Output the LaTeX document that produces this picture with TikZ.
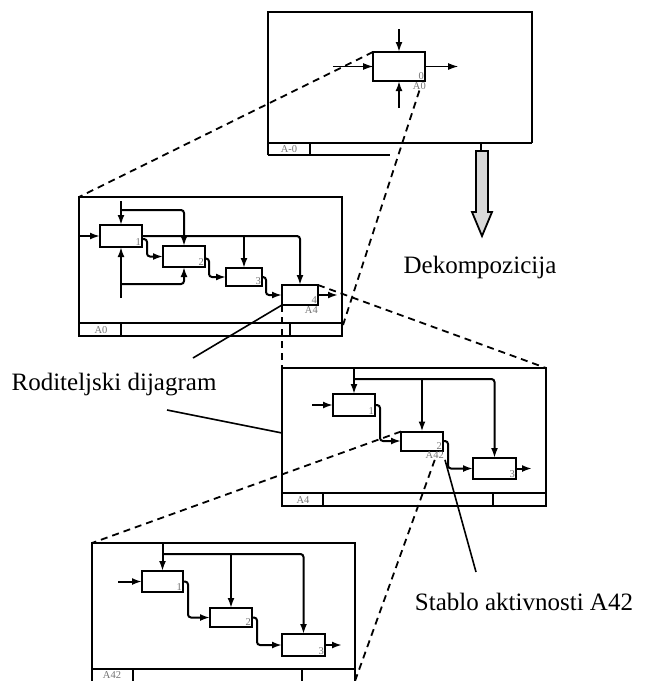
\documentclass[tikz,border=0pt]{standalone}
\usepackage{fontspec}
\setmainfont{Liberation Serif}
\usetikzlibrary{arrows.meta}

\tikzset{
  frame/.style={line width=2pt},
  act/.style={draw, line width=2pt, inner sep=0pt, outer sep=0pt},
  num/.style={font=\fontsize{10.5}{10.5}\selectfont, text=black!55, inner sep=1pt},
  code/.style={font=\fontsize{10.5}{10.5}\selectfont, text=black!55, inner sep=1pt},
  flow/.style={line width=2pt, rounded corners=3pt, -{Latex[length=10pt,width=7pt]}},
  zoomline/.style={line width=1.8pt, dash pattern=on 7pt off 5pt},
  note/.style={font=\fontsize{25}{28}\selectfont},
}

\begin{document}
\begin{tikzpicture}[x=1pt,y=-1pt]
  \useasboundingbox (0,0) rectangle (653,681);

  % diagram A-0
  \draw[frame] (268,155) -- (268,12) -- (532,12) -- (532,143); % okvir
  \draw[frame] (268,143) -- (532,143);
  \draw[frame] (268,155) -- (390,155);
  \draw[frame] (310,143) -- (310,155);
  \node[code] at (289,149) {A-0};
  \node[act, minimum width=52pt, minimum height=29pt] (t0) at (399,66.5) {};
  \node[num, anchor=south east] at (t0.south east) {0};
  \node[code, anchor=north east] (t0lab) at ([xshift=2pt]t0.south east) {A0};
  \coordinate (t0ctl) at (399,29);
  \coordinate (t0in) at (333,66.5);
  \coordinate (t0out) at (458,66.5);
  \coordinate (t0mech) at (399,108);
  \draw[flow] (t0ctl) -- (t0.north); % upravljanje
  \draw[flow, line width=1pt] (t0in) -- (t0.west); % ulaz
  \draw[flow, line width=1pt] (t0.east) -- (t0out); % izlaz
  \draw[flow] (t0mech) -- (t0.south); % mehanizam

  % strelica dekompozicije
  \draw[line width=1.2pt] (481,143) -- (481,151);
  \draw[line width=1.8pt, fill=black!15] (476,151) -- (488,151) -- (488,212) -- (492,212)
    -- (482,236) -- (472,212) -- (476,212) -- cycle;
  \node[note] (dek) at (480,267) {Dekompozicija};

  % diagram A0
  \draw[frame] (79,197) rectangle (342,336);
  \draw[frame] (79,323) -- (342,323);
  \draw[frame] (121,323) -- (121,336);
  \draw[frame] (290,323) -- (290,336);
  \node[code] at (101,330) {A0};
  \coordinate (f1nw) at (79,197);
  \coordinate (f1e) at (343,325);
  \node[act, minimum width=42pt, minimum height=22pt] (b1) at (121,236) {};
  \node[act, minimum width=42pt, minimum height=21pt] (b2) at (184,256.5) {};
  \node[act, minimum width=36pt, minimum height=18pt] (b3) at (244,277) {};
  \node[act, minimum width=36pt, minimum height=20pt] (b4) at (300,295) {};
  \node[num, anchor=south east] at (b1.south east) {1};
  \node[num, anchor=south east] at (b2.south east) {2};
  \node[num, anchor=south east] at (b3.south east) {3};
  \node[num, anchor=south east] at (b4.south east) {4};
  \node[code, anchor=north east] at ([xshift=1pt]b4.south east) {A4};
  \coordinate (a0ctl) at (121,201);
  \coordinate (a0ctlj) at (121,210);
  \coordinate (a0in) at (80,236);
  \coordinate (a0mech) at (121,298);
  \coordinate (a0mechj) at (121,284);
  \coordinate (a0out) at (338,295);
  \draw[flow] (a0ctl) -- (b1.north);
  \draw[flow] (a0ctlj) -| (b2.north);
  \draw[flow] (a0in) -- (b1.west);
  \draw[flow] (a0mech) -- (b1.south);
  \draw[flow] (a0mechj) -| (b2.south);
  \draw[flow] (b1.east) -| (b4.north);
  \draw[flow] (b3.north |- b1.east) -- (b3.north);
  \draw[flow] ([yshift=-3pt]b1.east) -- ++(5,0) |- (b2.west);
  \draw[flow] ([yshift=-2pt]b2.east) -- ++(4,0) |- (b3.west);
  \draw[flow] (b3.east) -- ++(4,0) |- (b4.west);
  \draw[flow] (b4.east) -- (a0out);

  % diagram A4
  \draw[frame] (282,368) rectangle (546,506);
  \draw[frame] (282,493) -- (546,493);
  \draw[frame] (323,493) -- (323,506);
  \draw[frame] (493,493) -- (493,506);
  \node[code] at (303,500) {A4};
  \coordinate (f2nw) at (282,368);
  \coordinate (f2ne) at (546,368);
  \coordinate (f2w) at (282,433);
  \node[act, minimum width=42pt, minimum height=22pt] (c1) at (354,405) {};
  \node[act, minimum width=42pt, minimum height=19pt] (c2) at (422,441) {};
  \node[act, minimum width=43pt, minimum height=21pt] (c3) at (494.5,468.5) {};
  \node[num, anchor=south east] at (c1.south east) {1};
  \node[num, anchor=south east] at (c2.south east) {2};
  \node[num, anchor=south east] at (c3.south east) {3};
  \node[code, anchor=north east] (c2lab) at ([xshift=2pt]c2.south east) {A42};
  \coordinate (a4ctl) at (354,368);
  \coordinate (a4ctlj) at (354,379);
  \coordinate (a4in) at (312,405);
  \coordinate (a4out) at (532,468.5);
  \draw[flow] (a4ctl) -- (c1.north);
  \draw[flow] (a4ctlj) -| (c3.north);
  \draw[flow] (c2.north |- a4ctlj) -- (c2.north);
  \draw[flow] (a4in) -- (c1.west);
  \draw[flow] (c1.east) -- ++(5,0) |- (c2.west);
  \draw[flow] (c2.east) -- ++(5,0) |- (c3.west);
  \draw[flow] (c3.east) -- (a4out);

  % diagram A42
  \draw[frame] (92,681) -- (92,543) -- (355,543) -- (355,681);
  \draw[frame] (92,669) -- (355,669);
  \draw[frame] (133,669) -- (133,681);
  \draw[frame] (302,669) -- (302,681);
  \node[code] at (112,675) {A42};
  \coordinate (f3nw) at (92,543);
  \coordinate (f3se) at (355,681);
  \node[act, minimum width=41pt, minimum height=21pt] (d1) at (162.5,581.5) {};
  \node[act, minimum width=42pt, minimum height=19pt] (d2) at (231,617.5) {};
  \node[act, minimum width=43pt, minimum height=22pt] (d3) at (303.5,645) {};
  \node[num, anchor=south east] at (d1.south east) {1};
  \node[num, anchor=south east] at (d2.south east) {2};
  \node[num, anchor=south east] at (d3.south east) {3};
  \coordinate (a42ctl) at (162.5,543);
  \coordinate (a42ctlj) at (162.5,554);
  \coordinate (a42in) at (118,581.5);
  \coordinate (a42out) at (342,645);
  \draw[flow] (a42ctl) -- (d1.north);
  \draw[flow] (a42ctlj) -| (d3.north);
  \draw[flow] (d2.north |- a42ctlj) -- (d2.north);
  \draw[flow] (a42in) -- (d1.west);
  \draw[flow] (d1.east) -- ++(5,0) |- (d2.west);
  \draw[flow] (d2.east) -- ++(5,0) |- (d3.west);
  \draw[flow] (d3.east) -- (a42out);

  % linije dekompozicije
  \draw[zoomline] (t0.north west) -- (f1nw);
  \draw[zoomline] (t0lab.south) -- (f1e);
  \draw[zoomline] (b4.north east) -- (f2ne);
  \draw[zoomline] (b4.south west) -- (f2nw);
  \draw[zoomline] (c2.north west) -- (f3nw);
  \draw[zoomline] (c2lab.south) -- (f3se);

  % oznake
  \node[note] (rod) at (114,385) {Roditeljski dijagram};
  \coordinate (rod1) at (193,358);
  \coordinate (rod2) at (167,410);
  \draw[line width=1.6pt] (rod1) -- (b4.south west);
  \draw[line width=1.6pt] (rod2) -- (f2w);
  \node[note] (stablo) at (524,602) {Stablo aktivnosti A42};
  \coordinate (st1) at (476,572);
  \draw[line width=1.6pt] (c2lab.south east) -- (st1);
\end{tikzpicture}
\end{document}
